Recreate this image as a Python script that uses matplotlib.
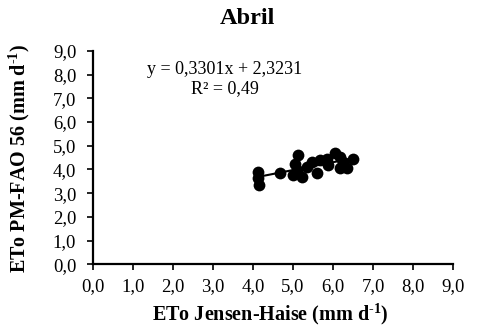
import matplotlib
matplotlib.use("Agg")

import matplotlib.pyplot as plt
import matplotlib.ticker as mticker
import numpy as np

# ── Data ──────────────────────────────────────────────────────────────────────
eto_jh = [4.13, 4.16, 4.13, 4.68, 5.01, 5.13, 5.05, 5.09, 5.34, 5.47, 5.59,
          5.68, 5.84, 6.05, 6.18, 6.18, 6.34, 6.51, 6.26, 5.22, 5.88]
eto_pm = [3.90, 3.34, 3.65, 3.83, 3.76, 4.60, 4.25, 3.97, 4.11, 4.32, 3.83,
          4.39, 4.46, 4.68, 4.53, 4.04, 4.04, 4.46, 4.32, 3.69, 4.18]
slope, intercept = 0.3301, 2.3231
r2 = 0.49

plt.rcParams["font.family"] = "Liberation Serif"
plt.rcParams["mathtext.fontset"] = "custom"
plt.rcParams["mathtext.rm"] = "Liberation Serif"
plt.rcParams["mathtext.bf"] = "Liberation Serif:bold"
plt.rcParams["mathtext.default"] = "bf"


def comma(v, _pos):
    return f"{v:.1f}".replace(".", ",")


fig = plt.figure(figsize=(4.79, 3.30), dpi=100)
ax = fig.add_axes([0.194, 0.199, 0.7516, 0.647])

ax.scatter(eto_jh, eto_pm, s=72, color="black", zorder=3, linewidths=0)
xs = np.array([min(eto_jh), max(eto_jh)])
ax.plot(xs, slope * xs + intercept, color="black", linewidth=1.5, zorder=2)

ax.set_xlim(0, 9)
ax.set_ylim(0, 9)
ax.xaxis.set_major_locator(mticker.MultipleLocator(1))
ax.yaxis.set_major_locator(mticker.MultipleLocator(1))
ax.xaxis.set_major_formatter(mticker.FuncFormatter(comma))
ax.yaxis.set_major_formatter(mticker.FuncFormatter(comma))
ax.tick_params(direction="out", length=4, width=1.2, labelsize=13.5,
               colors="black")
ax.tick_params(axis="y", pad=8)
ax.tick_params(axis="x", pad=6)

for side in ("top", "right"):
    ax.spines[side].set_visible(False)
for side in ("left", "bottom"):
    ax.spines[side].set_linewidth(1.6)

ax.text(3.3, 8.2, f"y = {slope:.4f}x + {intercept:.4f}".replace(".", ","),
        ha="center", va="center", fontsize=13)
ax.text(3.3, 7.4, f"R² = {r2:.2f}".replace(".", ","),
        ha="center", va="center", fontsize=13)

unit = "(mm d$^{\u2010 1}$)"
fig.text(247 / 479, 1 - 18 / 330, "Abril", ha="center", va="center",
         fontsize=17.5, fontweight="bold")
fig.text(270 / 479, 1 - 314 / 330, "ETo Jensen-Haise " + unit,
         ha="center", va="center", fontsize=14.5, fontweight="bold")
fig.text(19 / 479, 1 - 158 / 330, "ETo PM-FAO 56 " + unit,
         ha="center", va="center", fontsize=14.5, fontweight="bold",
         rotation=90)

fig.savefig("out.png", dpi=100)
